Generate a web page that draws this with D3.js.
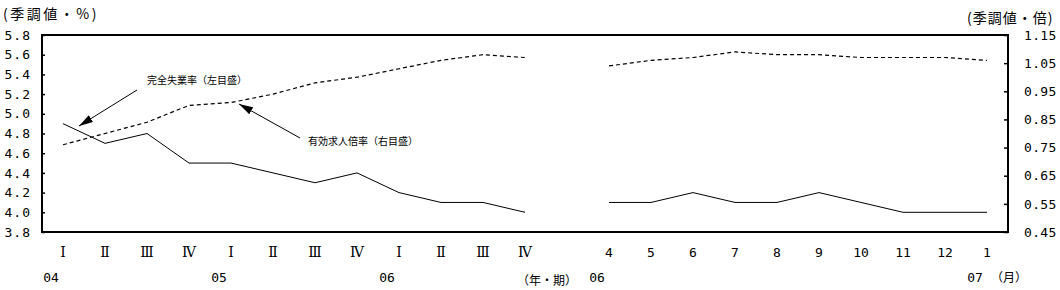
<!DOCTYPE html>
<html>
<head>
<meta charset="utf-8">
<script src="https://cdn.jsdelivr.net/npm/d3@7"></script>
<style>
  html, body { margin: 0; padding: 0; background: #fff; }
  svg { display: block; }
  .jp { font-family: "Noto Sans CJK JP", sans-serif; }
  .num { font-family: "DejaVu Sans Mono", monospace; }
</style>
</head>
<body>
<svg id="chart" width="1060" height="290"></svg>
<script>
// ---- data ----
const quarterLabels = ["Ⅰ","Ⅱ","Ⅲ","Ⅳ","Ⅰ","Ⅱ","Ⅲ","Ⅳ","Ⅰ","Ⅱ","Ⅲ","Ⅳ"];
const quarterYears  = ["04","","","","05","","","","06","","",""];
const monthLabels   = ["4","5","6","7","8","9","10","11","12","1"];
const monthYears    = ["06","","","","","","","","","07"];
const unempQuarterly = [4.9,4.7,4.8,4.5,4.5,4.4,4.3,4.4,4.2,4.1,4.1,4.0];
const unempMonthly   = [4.1,4.1,4.2,4.1,4.1,4.2,4.1,4.0,4.0,4.0];
const ratioQuarterly = [0.76,0.80,0.84,0.90,0.91,0.94,0.98,1.00,1.03,1.06,1.08,1.07];
const ratioMonthly   = [1.04,1.06,1.07,1.09,1.08,1.08,1.07,1.07,1.07,1.06];
const leftTicks  = ["3.8","4.0","4.2","4.4","4.6","4.8","5.0","5.2","5.4","5.6","5.8"];
const rightTicks = ["0.45","0.55","0.65","0.75","0.85","0.95","1.05","1.15"];
const leftTitle  = "(季調値・%)";
const rightTitle = "(季調値・倍)";
const unempLabel = "完全失業率（左目盛）";
const ratioLabel = "有効求人倍率（右目盛）";
const periodUnit = "（年・期）";
const monthUnit  = "（月）";

// ---- layout ----
const svg = d3.select("#chart");
const L = 42, R = 1008, T = 35, B = 232;

const qKeys = quarterLabels.map((d,i) => "q"+i);
const mKeys = monthLabels.map((d,i) => "m"+i);
const x = d3.scalePoint().domain([...qKeys, "gap", ...mKeys]).range([L, R]).padding(0.5);
const yL = d3.scaleLinear().domain([3.8, 5.8]).range([B, T]);
const yR = d3.scaleLinear().domain([0.45, 1.15]).range([B, T]);

// frame
svg.append("rect").attr("x", L).attr("y", T).attr("width", R-L).attr("height", B-T)
  .attr("fill","none").attr("stroke","#000").attr("stroke-width",2);

// left axis
const axL = d3.axisLeft(yL).tickValues(leftTicks.map(Number)).tickSize(-3).tickPadding(12)
  .tickFormat((d,i) => leftTicks[i]);
const gL = svg.append("g").attr("transform", `translate(${L},0)`).call(axL);
gL.select(".domain").remove();
gL.selectAll(".tick line").attr("stroke","#000").attr("stroke-width",1.5);
gL.selectAll(".tick text").attr("class","num").attr("font-size",13).attr("fill","#000")
  .attr("letter-spacing",1).attr("x",-11);

// right axis
const axR = d3.axisRight(yR).tickValues(rightTicks.map(Number)).tickSize(-4).tickPadding(12)
  .tickFormat((d,i) => rightTicks[i]);
const gR = svg.append("g").attr("transform", `translate(${R},0)`).call(axR);
gR.select(".domain").remove();
gR.selectAll(".tick line").attr("stroke","#000").attr("stroke-width",1.5);
gR.selectAll(".tick text").attr("class","num").attr("font-size",13).attr("fill","#000")
  .attr("letter-spacing",0.3).attr("x",16);

// x labels
const xLab = svg.append("g");
qKeys.forEach((k,i) => {
  xLab.append("text").attr("x", x(k)).attr("y", 257).attr("text-anchor","middle")
    .attr("font-family","'DejaVu Serif', serif").attr("font-size",14).text(quarterLabels[i]);
  if (quarterYears[i]) xLab.append("text").attr("class","num").attr("x", x(k)-12).attr("y", 282)
    .attr("text-anchor","middle").attr("font-size",13).text(quarterYears[i]);
});
mKeys.forEach((k,i) => {
  xLab.append("text").attr("class","num").attr("x", x(k)).attr("y", 257).attr("text-anchor","middle")
    .attr("font-size",13).text(monthLabels[i]);
  if (monthYears[i]) xLab.append("text").attr("class","num").attr("x", x(k)-12).attr("y", 282)
    .attr("text-anchor","middle").attr("font-size",13).text(monthYears[i]);
});
svg.append("text").attr("class","jp").attr("x",517).attr("y",285).attr("font-size",12).text(periodUnit);
svg.append("text").attr("class","jp").attr("x",991).attr("y",282).attr("font-size",12).text(monthUnit);

// titles
svg.append("text").attr("class","jp").attr("x",3).attr("y",19).attr("font-size",14)
  .attr("letter-spacing",2.5).text(leftTitle);
svg.append("text").attr("class","jp").attr("x",967).attr("y",23).attr("font-size",14)
  .attr("letter-spacing",1).text(rightTitle);

// lines
const lineL = d3.line().x(d => x(d.k)).y(d => yL(d.v));
const lineR = d3.line().x(d => x(d.k)).y(d => yR(d.v));
const segs = [
  {keys:qKeys, uv:unempQuarterly, rv:ratioQuarterly},
  {keys:mKeys, uv:unempMonthly, rv:ratioMonthly}
];
segs.forEach(s => {
  svg.append("path").attr("d", lineL(s.keys.map((k,i)=>({k, v:s.uv[i]}))))
    .attr("fill","none").attr("stroke","#000").attr("stroke-width",1);
  svg.append("path").attr("d", lineR(s.keys.map((k,i)=>({k, v:s.rv[i]}))))
    .attr("fill","none").attr("stroke","#000").attr("stroke-width",1.2).attr("stroke-dasharray","4,3");
});

// annotations with arrows
const defs = svg.append("defs");
defs.append("marker").attr("id","ah").attr("viewBox","0 0 14 8").attr("refX",14).attr("refY",4)
  .attr("markerWidth",14).attr("markerHeight",8).attr("markerUnits","userSpaceOnUse")
  .attr("orient","auto")
  .append("path").attr("d","M0,0 L14,4 L0,8 Z").attr("fill","#000");

svg.append("line").attr("x1",137).attr("y1",90).attr("x2",79).attr("y2",126)
  .attr("stroke","#000").attr("stroke-width",1).attr("marker-end","url(#ah)");
svg.append("text").attr("class","jp").attr("x",147).attr("y",84).attr("font-size",10)
  .text(unempLabel);

svg.append("line").attr("x1",300).attr("y1",138).attr("x2",239).attr("y2",104)
  .attr("stroke","#000").attr("stroke-width",1).attr("marker-end","url(#ah)");
svg.append("text").attr("class","jp").attr("x",308).attr("y",145).attr("font-size",10)
  .text(ratioLabel);
</script>
</body>
</html>
